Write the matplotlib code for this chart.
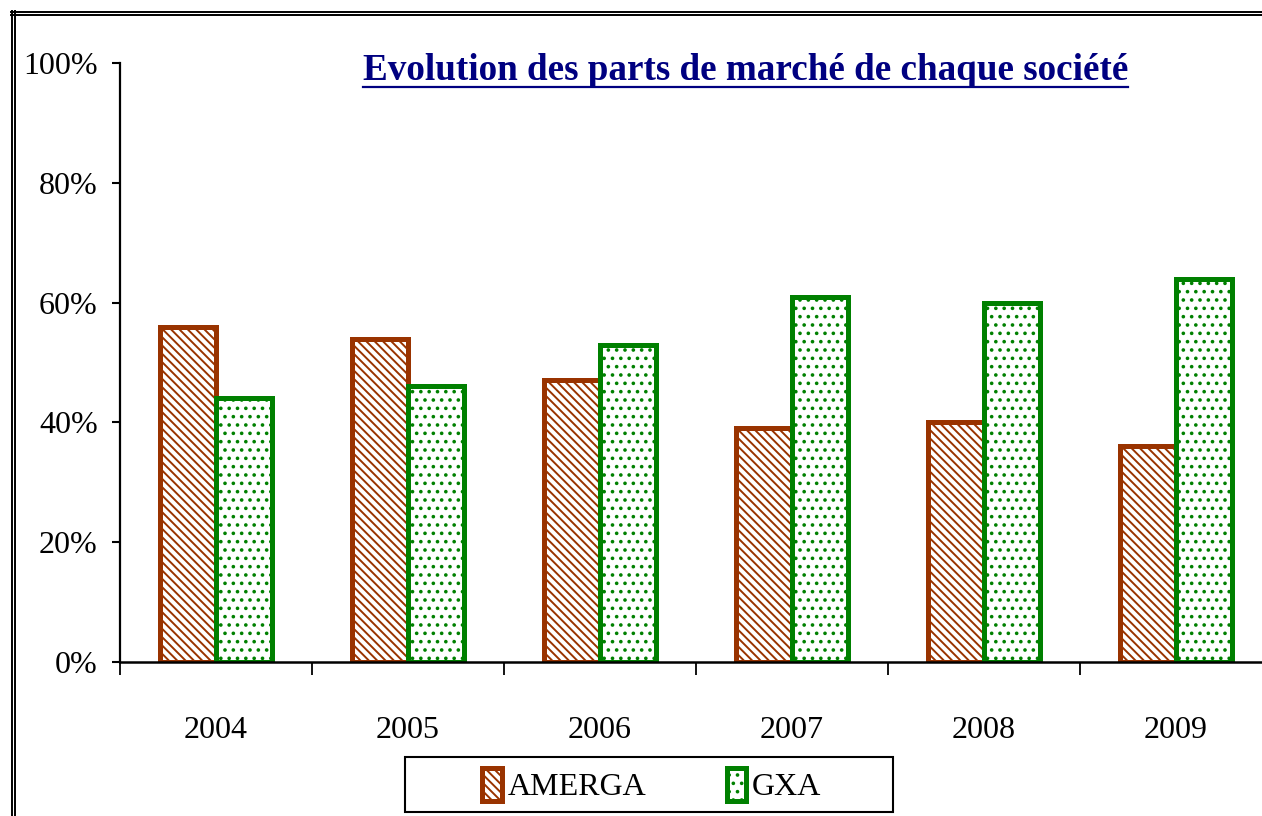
import matplotlib
matplotlib.use("Agg")
import matplotlib.pyplot as plt
from matplotlib.lines import Line2D
from matplotlib.patches import Rectangle
import numpy as np

# ---------- data ----------
years = ["2004", "2005", "2006", "2007", "2008", "2009"]
amerga = [56, 54, 47, 39, 40, 36]
gxa = [44, 46, 53, 61, 60, 64]
y_ticks = [0, 20, 40, 60, 80, 100]
y_labels = ["0%", "20%", "40%", "60%", "80%", "100%"]

W, H = 1262, 816
plt.rcParams['font.family'] = ['Liberation Serif', 'DejaVu Serif']
plt.rcParams['hatch.linewidth'] = 1.4

fig = plt.figure(figsize=(W / 100, H / 100), dpi=100)
ax = fig.add_axes([120 / W, 154 / H, 1152 / W, 599 / H])

x = np.arange(len(years))
bw = 0.29
ax.bar(x - bw / 2, amerga, bw, facecolor='white', edgecolor='#993300',
       hatch='\\\\\\\\', linewidth=3.6, label='AMERGA', zorder=2)
ax.bar(x + bw / 2, gxa, bw, facecolor='white', edgecolor='#008000',
       hatch='..', linewidth=3.6, label='GXA', zorder=3)

ax.set_xlim(-0.5, len(years) - 0.5)
ax.set_ylim(0, 100)

# y axis
ax.set_yticks(y_ticks)
ax.set_yticklabels(y_labels, fontsize=23)
ax.tick_params(axis='y', length=6, width=1.5, pad=10)

# x axis: ticks at category boundaries, labels at centres
ax.set_xticks(np.arange(len(years) + 1) - 0.5)
ax.set_xticklabels([])
ax.set_xticks(x, minor=True)
ax.set_xticklabels(years, minor=True, fontsize=23)
ax.tick_params(axis='x', which='major', length=9, width=1.3)
ax.tick_params(axis='x', which='minor', length=0, pad=39)

for s in ['top', 'right']:
    ax.spines[s].set_visible(False)
ax.spines['left'].set_linewidth(1.6)
ax.spines['bottom'].set_linewidth(1.8)
ax.spines['left'].set_zorder(4)
ax.spines['bottom'].set_zorder(4)

# title, underlined
title = fig.text(363 / W, 1 - 80 / H, "Evolution des parts de marché de chaque société",
                 fontsize=26.7, fontweight='bold', color='#000080',
                 ha='left', va='baseline')
fig.canvas.draw()
bb = title.get_window_extent(fig.canvas.get_renderer())
fig.add_artist(Line2D([bb.x0 / W, bb.x1 / W], [1 - 87 / H, 1 - 87 / H],
                      color='#000080', linewidth=1.6, transform=fig.transFigure))

# legend (frame drawn separately to get the wide box)
leg = fig.legend(loc='center', bbox_to_anchor=(652 / W, 1 - 785 / H), ncol=2,
                 fontsize=23, frameon=False, handlelength=0.6, handleheight=1.25,
                 handletextpad=0.2, columnspacing=2.5, borderpad=0,
                 borderaxespad=0)
fig.add_artist(Rectangle((405 / W, 1 - 812 / H), 488 / W, 55 / H,
                         transform=fig.transFigure, fill=False,
                         edgecolor='black', linewidth=1.5))

# double page border (left and top)
for px in [12, 14.8]:
    fig.add_artist(Line2D([px / W, px / W], [0, 1 - 11 / H], color='black',
                          linewidth=1.4, transform=fig.transFigure))
for py in [12, 14.8]:
    fig.add_artist(Line2D([11 / W, 1], [1 - py / H, 1 - py / H], color='black',
                          linewidth=1.4, transform=fig.transFigure))

fig.savefig("out.png", dpi=100)
